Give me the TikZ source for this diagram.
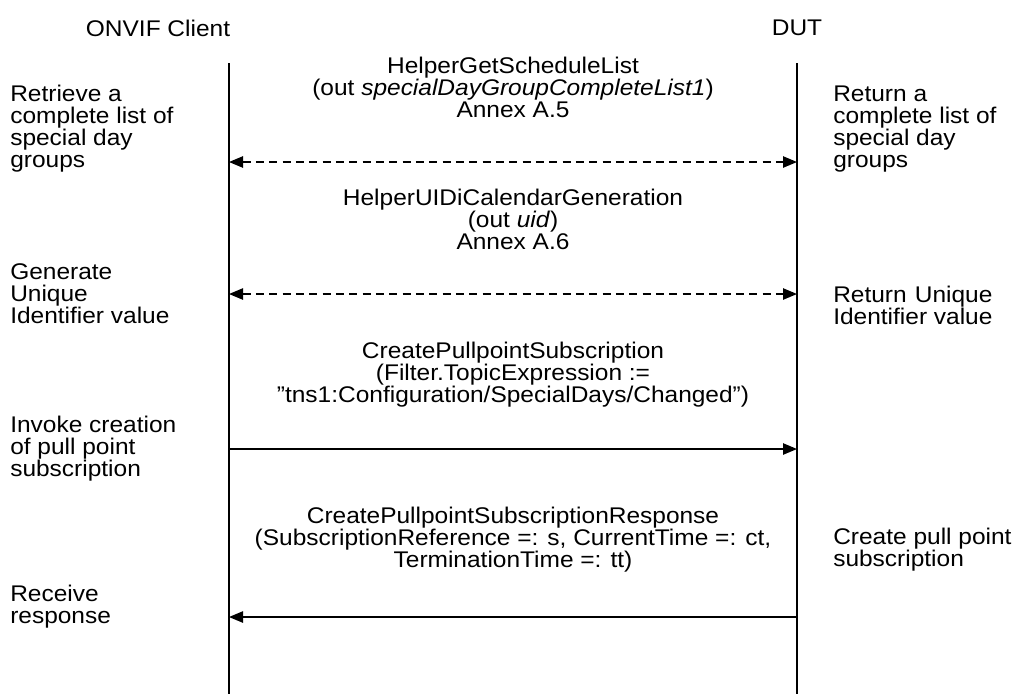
\documentclass[tikz,border=0pt]{standalone}
\usepackage{fontspec}
\setmainfont[FakeStretch=1.08]{Liberation Sans}
\usetikzlibrary{arrows.meta,positioning}
\newlength\spreadwd
\newcommand{\spreadto}[2]{\settowidth{\spreadwd}{#2}\makebox[\spreadwd][s]{#1}}
\tikzset{
  txt/.style      = {font=\fontsize{17}{16.5}\selectfont, inner sep=0pt},
  actor/.style    = {txt},
  msg/.style      = {txt, align=center},
  note/.style     = {txt, align=left, anchor=west},
  lifeline/.style = {line width=0.9pt},
  call/.style     = {-{Triangle[length=10.5pt,width=8.5pt]}, line width=1.1pt},
  helper/.style   = {{Triangle[length=10.5pt,width=8.5pt]}-{Triangle[length=10.5pt,width=8.5pt]},
                     line width=1.1pt, dash pattern=on 6pt off 4pt},
}

\begin{document}
\begin{tikzpicture}[x=0.75pt, y=-0.75pt]
  \useasboundingbox (0,0) rectangle (1019,694);
  % actors and lifelines
  \node[actor] (client) at (158,28) {ONVIF Client};
  \node[actor] (dut) at (797,28) {DUT};
  \coordinate (cTop) at (229,63);
  \coordinate (cBot) at (229,694);
  \coordinate (dTop) at (797,63);
  \coordinate (dBot) at (797,694);
  \draw[lifeline] (cTop) -- (cBot);
  \draw[lifeline] (dTop) -- (dBot);
  % arrow ends
  \coordinate (c1) at (229,162);  \coordinate (d1) at (797,162);
  \coordinate (c2) at (229,294);  \coordinate (d2) at (797,294);
  \coordinate (c3) at (229,449);  \coordinate (d3) at (797,449);
  \coordinate (c4) at (229,617);  \coordinate (d4) at (797,617);
  % messages
  \node[msg] (m1) at (513,87) {HelperGetScheduleList\\(out \textit{specialDayGroupCompleteList1})\\Annex A.5};
  \node[msg] (m2) at (513,219) {HelperUIDiCalendarGeneration\\(out \textit{uid})\\Annex A.6};
  \node[msg] (m3) at (513,375) {CreatePullpointSubscription\\(Filter.TopicExpression :=\\”tns1:Configuration/SpecialDays/Changed”)};
  \node[msg] (m4) at (513,540) {CreatePullpointSubscriptionResponse\\(SubscriptionReference =: s, CurrentTime =: ct,\\TerminationTime =: tt)};
  \draw[helper] (c1) -- (d1);
  \draw[helper] (c2) -- (d2);
  \draw[call] (c3) -- (d3);
  \draw[call] (d4) -- (c4);
  % client side notes
  \node[note] (n1) at (10,129) {Retrieve a\\complete list of\\special day\\groups};
  \node[note] (n2) at (10,294) {Generate\\Unique\\Identifier value};
  \node[note] (n3) at (10,449) {Invoke creation\\of pull point\\subscription};
  \node[note] (n4) at (10,607) {Receive\\response};
  % DUT side notes
  \node[note] (r1) at (833,129) {Return a\\complete list of\\special day\\groups};
  \node[note] (r2) at (833,305) {\spreadto{Return\hfill Unique}{Identifier value}\\Identifier value};
  \node[note] (r3) at (833,550) {Create pull point\\subscription};
\end{tikzpicture}
\end{document}
